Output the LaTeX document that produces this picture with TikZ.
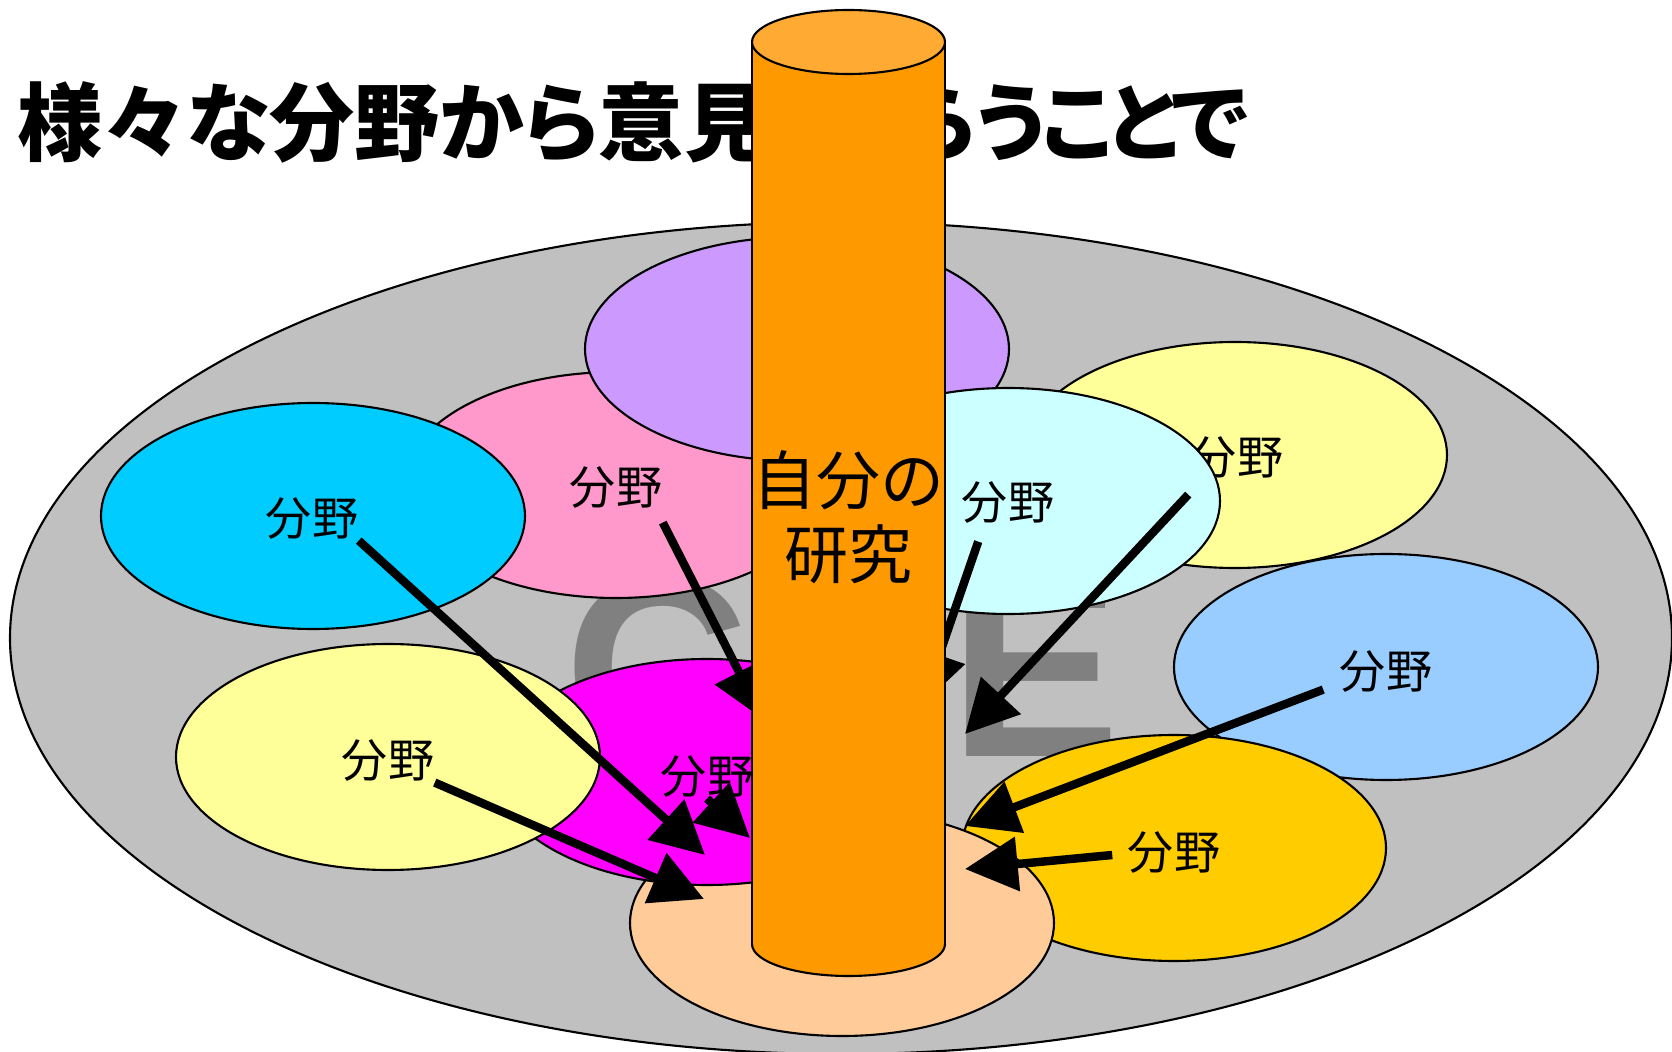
\documentclass[tikz,border=0pt]{standalone}
\usepackage{fontspec}
\newfontfamily\jp{Noto Sans CJK JP}
\newfontfamily\jptitle{Noto Sans CJK JP}[RawFeature=+palt]
\newfontfamily\coefont{Liberation Sans}
\usetikzlibrary{arrows.meta}

\definecolor{basegray}{HTML}{C0C0C0}
\definecolor{coegray}{HTML}{808080}
\definecolor{fpurple}{HTML}{CC99FF}
\definecolor{fpink}{HTML}{FF99CC}
\definecolor{fcyan}{HTML}{00CCFF}
\definecolor{fyellow}{HTML}{FFFF99}
\definecolor{flightcyan}{HTML}{CCFFFF}
\definecolor{flightblue}{HTML}{99CCFF}
\definecolor{fgold}{HTML}{FFCC00}
\definecolor{fpeach}{HTML}{FFCC99}
\definecolor{fmagenta}{HTML}{FF00FF}
\definecolor{pillar}{HTML}{FF9900}
\definecolor{pillartop}{HTML}{FFAA33}

\begin{document}
\begin{tikzpicture}[x=0.01cm,y=-0.01cm,
  field/.style={draw=black,line width=0.6pt},
  lbl/.style={inner sep=0pt,font=\jp\fontsize{13.1}{13.1}\selectfont},
  arr/.style={line width=2.4pt,-{Triangle[length=15pt,width=15pt]}}]
\useasboundingbox (0,0) rectangle (1672,1052);

% title (partly behind the pillar)
\node[anchor=west,inner sep=0pt,font=\jptitle\bfseries\fontsize{24.2}{24.2}\selectfont] (title) at (17,122)
  {様々な分野から意見を\kern-9pt もら{\addfontfeature{LetterSpace=-6}うことで}};

% base plate and the letters on it
\draw[field,fill=basegray] (841,638) ellipse [x radius=831,y radius=416];
\node[anchor=base west,inner sep=0pt,text=coegray,font=\coefont\bfseries\fontsize{73}{73}\selectfont] (coe) at (564,757) {COE};

% fields, back to front
\draw[field,fill=fpink] (616,485) ellipse [x radius=212,y radius=113];
\node[lbl] (pink) at (616,488) {分野};
\draw[field,fill=fpurple] (797,349) ellipse [x radius=212,y radius=112];
\draw[field,fill=fcyan] (313,516) ellipse [x radius=212,y radius=113];
\node[lbl] (cyan) at (312,519) {分野};
\draw[field,fill=fyellow] (1235,455) ellipse [x radius=212,y radius=113];
\node[lbl] (yellowtr) at (1237,458) {分野};
\draw[field,fill=flightcyan] (1008,501) ellipse [x radius=212,y radius=113];
\node[lbl] (lightcyan) at (1008,503) {分野};
\draw[field,fill=flightblue] (1386,667) ellipse [x radius=212,y radius=113];
\node[lbl] (lightblue) at (1386,672) {分野};
\draw[field,fill=fgold] (1174,848) ellipse [x radius=212,y radius=113];
\node[lbl] (gold) at (1174,853) {分野};
\draw[field,fill=fpeach] (842,923) ellipse [x radius=212,y radius=113];
\draw[field,fill=fmagenta] (707,772) ellipse [x radius=212,y radius=113];
\node[lbl] (magenta) at (707,777) {分野};
\draw[field,fill=fyellow] (388,757) ellipse [x radius=212,y radius=113];
\node[lbl] (yellowl) at (388,761) {分野};

% arrow tips at the pillar
\coordinate (tcyan) at (705,855);
\coordinate (tpink) at (763,719);
\coordinate (tlightcyan) at (922,705);
\coordinate (tyellowtr) at (965,734);
\coordinate (tlightblue) at (965,826);
\coordinate (tgold) at (965,869);
\coordinate (tyellowl) at (704,899);
\coordinate (tmagenta) at (750,838);

\draw[arr] (cyan.south east) -- (tcyan);
\draw[arr] ([shift={(0,13)}]pink.south east) -- (tpink);
\draw[arr] ([shift={(17,17)}]lightcyan.south west) -- (tlightcyan);
\draw[arr] ([shift={(-2,15)}]yellowtr.south west) -- (tyellowtr);
\draw[arr] ([shift={(-16,-4)}]lightblue.south west) -- (tlightblue);
\draw[arr] ([shift={(-15,2)}]gold.west) -- (tgold);
\draw[arr] (yellowl.south east) -- (tyellowl);
\draw[arr] (magenta.south) -- (tmagenta);

% the pillar
\draw[field,fill=pillar] (848.5,944) ellipse [x radius=96.5,y radius=32];
\fill[pillar] (752,42) rectangle (945,944);
\draw[line width=0.6pt] (752,42) -- (752,944);
\draw[line width=0.6pt] (945,42) -- (945,944);
\draw[field,fill=pillartop] (848.5,42) ellipse [x radius=96.5,y radius=32];
\node[align=center,inner sep=0pt,font=\jp\fontsize{18.2}{21}\selectfont] (research) at (848,517) {自分の\\研究};
\end{tikzpicture}
\end{document}
